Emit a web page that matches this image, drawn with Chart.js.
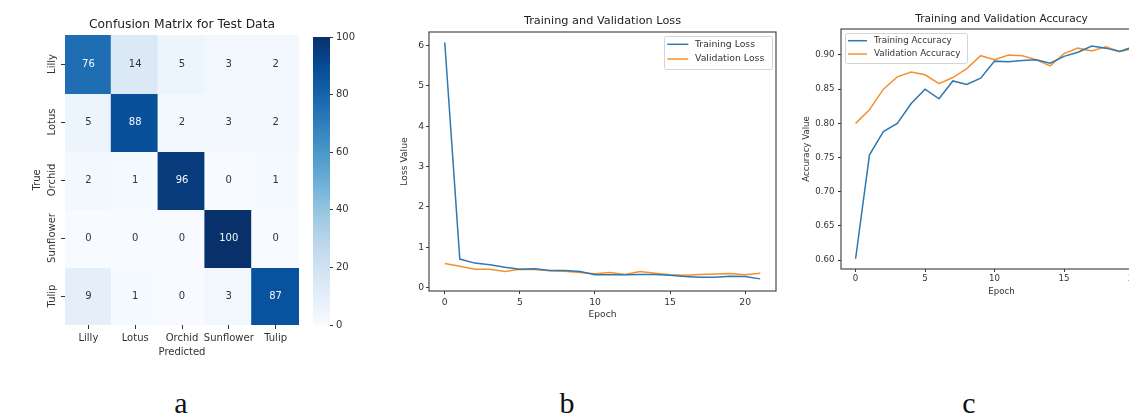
<!DOCTYPE html>
<html>
<head>
<meta charset="utf-8">
<title>Confusion matrix and training curves</title>
<script src="https://cdn.jsdelivr.net/npm/chart.js@4.4.1/dist/chart.umd.min.js"></script>
<style>
  body { margin: 0; width: 1129px; height: 416px; background: #fff; position: relative; overflow: hidden; }
  .pane { position: absolute; top: 0; }
  canvas { display: block; }
  .cap { position: absolute; top: 388px; width: 40px; text-align: center; font: 30px/1 "Liberation Serif", serif; color: #111; }
</style>
</head>
<body>
<div class="pane" style="left:0"><canvas id="cm" width="305" height="370"></canvas></div>
<div class="pane" style="left:300px"><canvas id="cbar" width="70" height="370"></canvas></div>
<div class="pane" style="left:380px"><canvas id="loss" width="400" height="340"></canvas></div>
<div class="pane" style="left:760px;width:369px;height:340px;overflow:hidden"><canvas id="acc" width="410" height="340"></canvas></div>
<div class="cap" style="left:161px">a</div>
<div class="cap" style="left:547px">b</div>
<div class="cap" style="left:949px">c</div>

<script>
// Data
const classNames = ['Lilly', 'Lotus', 'Orchid', 'Sunflower', 'Tulip'];
// rows = true class, columns = predicted class
const confusion = [
    [76, 14, 5, 3, 2],
    [5, 88, 2, 3, 2],
    [2, 1, 96, 0, 1],
    [0, 0, 0, 100, 0],
    [9, 1, 0, 3, 87]
];
const colorbarTicks = [0, 20, 40, 60, 80, 100];

const epochs = [0, 1, 2, 3, 4, 5, 6, 7, 8, 9, 10, 11, 12, 13, 14, 15, 16, 17, 18, 19, 20, 21];
const epochTicks = [0, 5, 10, 15, 20];

const trainLoss = [6.07, 0.71, 0.61, 0.57, 0.51, 0.46, 0.47, 0.43, 0.43, 0.40, 0.32, 0.32,
    0.32, 0.33, 0.33, 0.31, 0.28, 0.26, 0.26, 0.285, 0.28, 0.22];
const valLoss = [0.60, 0.53, 0.46, 0.46, 0.40, 0.46, 0.45, 0.42, 0.41, 0.38, 0.35, 0.38,
    0.33, 0.40, 0.36, 0.32, 0.31, 0.33, 0.34, 0.35, 0.32, 0.36];
const lossTicks = [0, 1, 2, 3, 4, 5, 6];

const trainAcc = [0.602, 0.754, 0.788, 0.800, 0.829, 0.850, 0.836, 0.862, 0.857, 0.866, 0.891, 0.890,
    0.892, 0.893, 0.888, 0.898, 0.904, 0.913, 0.910, 0.905, 0.912, 0.922];
const valAcc = [0.800, 0.820, 0.850, 0.868, 0.875, 0.871, 0.858, 0.867, 0.880, 0.899, 0.893, 0.900,
    0.899, 0.893, 0.884, 0.902, 0.910, 0.906, 0.912, 0.905, 0.909, 0.912];
const accTicks = [0.60, 0.65, 0.70, 0.75, 0.80, 0.85, 0.90];

// Styling
const bluesStops = ['#f7fbff', '#deebf7', '#c6dbef', '#9ecae1', '#6baed6', '#4292c6', '#2171b5', '#08519c', '#08306b'];
const lineBlue = '#2f78b0';
const lineOrange = '#f5902f';
const textColor = '#333';
const FONT = '"DejaVu Sans", sans-serif';

Chart.defaults.font.family = FONT;
Chart.defaults.color = textColor;
Chart.defaults.animation = false;

function hexToRgb(h) {
    return [1, 3, 5].map(i => parseInt(h.substr(i, 2), 16));
}

function blues(v) {
    const t = Math.max(0, Math.min(1, v / 100)) * (bluesStops.length - 1);
    const i = Math.min(Math.floor(t), bluesStops.length - 2);
    const f = t - i;
    const a = hexToRgb(bluesStops[i]), b = hexToRgb(bluesStops[i + 1]);
    const c = a.map((x, k) => Math.round(x + (b[k] - x) * f));
    return `rgb(${c[0]},${c[1]},${c[2]})`;
}

// seaborn picks dark or white annotation text from the cell luminance
function annotColor(v) {
    const rgb = blues(v).match(/\d+/g).map(Number).map(x => {
        x /= 255;
        return x <= 0.03928 ? x / 12.92 : Math.pow((x + 0.055) / 1.055, 2.4);
    });
    const lum = 0.2126 * rgb[0] + 0.7152 * rgb[1] + 0.0722 * rgb[2];
    return lum > 0.408 ? '#333' : '#f4f8fc';
}

function plotTitle(text, size, y) {
    return {
        id: 'plotTitle',
        afterDraw(chart) {
            const { ctx, chartArea: a } = chart;
            ctx.save();
            ctx.font = `${size}px ${FONT}`;
            ctx.fillStyle = '#222';
            ctx.textAlign = 'center';
            ctx.textBaseline = 'middle';
            ctx.fillText(text, (a.left + a.right) / 2, y);
            ctx.restore();
        }
    };
}

// Confusion matrix heatmap
const heatLabels = {
    id: 'heatLabels',
    afterDatasetsDraw(chart) {
        const { ctx } = chart;
        ctx.save();
        ctx.font = `10px ${FONT}`;
        ctx.textAlign = 'center';
        ctx.textBaseline = 'middle';
        chart.data.datasets.forEach((ds, r) => {
            chart.getDatasetMeta(r).data.forEach((bar, c) => {
                const v = confusion[r][c];
                ctx.fillStyle = annotColor(v);
                ctx.fillText(String(v), bar.x, (bar.y + bar.base) / 2);
            });
        });
        // rotated row labels
        const yScale = chart.scales.y;
        ctx.fillStyle = textColor;
        classNames.forEach((name, r) => {
            ctx.save();
            ctx.translate(52.5, yScale.getPixelForValue(r + 0.5));
            ctx.rotate(-Math.PI / 2);
            ctx.fillText(name, 0, 0);
            ctx.restore();
        });
        ctx.restore();
    }
};

new Chart(document.getElementById('cm'), {
    type: 'bar',
    data: {
        labels: classNames,
        datasets: classNames.map((name, r) => ({
            label: name,
            data: classNames.map(() => 1),
            backgroundColor: confusion[r].map(blues),
            borderWidth: 0,
            inflateAmount: 1,
            barPercentage: 1,
            categoryPercentage: 1,
            stack: 'cm'
        }))
    },
    options: {
        responsive: false,
        layout: { padding: { top: 35, right: 6, left: 0, bottom: 0 } },
        plugins: { legend: { display: false }, tooltip: { enabled: false } },
        scales: {
            x: {
                stacked: true,
                grid: { drawOnChartArea: false, offset: false, tickLength: 4, color: textColor },
                border: { display: false },
                ticks: { font: { size: 10 }, padding: 3, color: textColor, maxRotation: 0, minRotation: 0, autoSkip: false },
                title: { display: true, text: 'Predicted', font: { size: 10 }, padding: { top: 0, bottom: 12 } },
                afterFit: s => { s.height = 45; }
            },
            y: {
                type: 'linear',
                stacked: true,
                reverse: true,
                min: 0,
                max: 5,
                afterBuildTicks: s => { s.ticks = classNames.map((_, i) => ({ value: i + 0.5 })); },
                ticks: { display: false },
                grid: { drawOnChartArea: false, tickLength: 4, color: textColor },
                border: { display: false },
                title: { display: true, text: 'True', font: { size: 10 }, padding: { top: 31, bottom: 0 } },
                afterFit: s => { s.width = 65; }
            }
        }
    },
    plugins: [heatLabels, plotTitle('Confusion Matrix for Test Data', 12.3, 25)]
});

// Colorbar
new Chart(document.getElementById('cbar'), {
    type: 'bar',
    data: {
        labels: [''],
        datasets: [{
            data: [[colorbarTicks[0], colorbarTicks[colorbarTicks.length - 1]]],
            backgroundColor: ctx => {
                const area = ctx.chart.chartArea;
                if (!area) return bluesStops[0];
                const g = ctx.chart.ctx.createLinearGradient(0, area.bottom, 0, area.top);
                bluesStops.forEach((c, i) => g.addColorStop(i / (bluesStops.length - 1), c));
                return g;
            },
            borderWidth: 0,
            barPercentage: 1,
            categoryPercentage: 1
        }]
    },
    options: {
        responsive: false,
        layout: { padding: { top: 37, left: 13, right: 0, bottom: 45 } },
        plugins: { legend: { display: false }, tooltip: { enabled: false } },
        scales: {
            x: { display: false },
            y: {
                position: 'right',
                min: 0,
                max: 100,
                afterBuildTicks: s => { s.ticks = colorbarTicks.map(v => ({ value: v })); },
                ticks: { font: { size: 10 }, padding: 3, color: textColor },
                grid: { drawOnChartArea: false, tickLength: 3, color: textColor },
                border: { display: false },
                afterFit: s => { s.width = 40; }
            }
        }
    }
});

// Training curves
function curvePlugins(o) {
    return [{
        id: 'frameAndLegend',
        afterDraw(chart) {
            const { ctx, chartArea: a } = chart;
            ctx.save();
            ctx.strokeStyle = '#4a4a4a';
            ctx.lineWidth = 1.2;
            ctx.strokeRect(a.left, a.top, a.right - a.left, a.bottom - a.top);

            const lg = o.legend;
            const x = lg.right ? a.right - lg.inset - lg.w : a.left + lg.inset;
            const y = a.top + lg.inset;
            ctx.fillStyle = 'rgba(255,255,255,0.85)';
            ctx.strokeStyle = '#d4d4d4';
            ctx.lineWidth = 1;
            ctx.beginPath();
            ctx.roundRect(x + 0.5, y + 0.5, lg.w, lg.h, 2);
            ctx.fill();
            ctx.stroke();

            ctx.font = `${lg.size}px ${FONT}`;
            ctx.textBaseline = 'middle';
            ctx.textAlign = 'left';
            chart.data.datasets.forEach((ds, i) => {
                const ry = y + lg.row0 + i * lg.gap;
                ctx.strokeStyle = ds.borderColor;
                ctx.lineWidth = 1.5;
                ctx.beginPath();
                ctx.moveTo(x + lg.l0, ry);
                ctx.lineTo(x + lg.l1, ry);
                ctx.stroke();
                ctx.fillStyle = textColor;
                ctx.fillText(ds.label, x + lg.tx, ry);
            });
            ctx.restore();
        }
    }, plotTitle(o.title, o.titleSize, o.titleY)];
}

function curveChart(id, o) {
    const series = (vals) => epochs.map((e, i) => ({ x: e, y: vals[i] }));
    return new Chart(document.getElementById(id), {
        type: 'line',
        data: {
            datasets: [
                { label: o.labels[0], data: series(o.train), borderColor: lineBlue, borderWidth: 1.5, pointRadius: 0, tension: 0 },
                { label: o.labels[1], data: series(o.val), borderColor: lineOrange, borderWidth: 1.5, pointRadius: 0, tension: 0 }
            ]
        },
        options: {
            responsive: false,
            layout: { padding: o.pad },
            plugins: { legend: { display: false }, tooltip: { enabled: false } },
            scales: {
                x: {
                    type: 'linear',
                    min: -1.05,
                    max: 22.05,
                    afterBuildTicks: s => { s.ticks = epochTicks.map(v => ({ value: v })); },
                    ticks: { font: { size: o.tick }, padding: o.xPad, color: textColor, callback: v => String(v) },
                    grid: { drawOnChartArea: false, tickLength: 3, color: textColor },
                    border: { display: false },
                    title: { display: true, text: 'Epoch', font: { size: o.lab }, padding: { top: 0, bottom: o.xTitle } },
                    afterFit: s => { s.height = o.xH; }
                },
                y: {
                    min: o.yMin,
                    max: o.yMax,
                    afterBuildTicks: s => { s.ticks = o.yTicks.map(v => ({ value: v })); },
                    ticks: { font: { size: o.tick }, padding: o.yPad, color: textColor, callback: o.fmt },
                    grid: { drawOnChartArea: false, tickLength: 3, color: textColor },
                    border: { display: false },
                    title: { display: true, text: o.yLabel, font: { size: o.lab }, padding: { top: o.yTitle, bottom: 0 } },
                    afterFit: s => { s.width = o.yW; }
                }
            }
        },
        plugins: curvePlugins(o)
    });
}

curveChart('loss', {
    labels: ['Training Loss', 'Validation Loss'],
    train: trainLoss, val: valLoss,
    yMin: -0.08, yMax: 6.33, yTicks: lossTicks, fmt: v => String(v),
    yLabel: 'Loss Value',
    title: 'Training and Validation Loss', titleSize: 11.3, titleY: 21,
    pad: { top: 32, right: 4, left: 0, bottom: 0 },
    tick: 9.2, lab: 9.2, xPad: 3.5, yPad: 2, xTitle: 19.5, yTitle: 19.5, xH: 49, yW: 49,
    legend: { right: true, inset: 4, w: 108, h: 33, row0: 8.3, gap: 14.7, l0: 3.3, l1: 24.3, tx: 31, size: 9.3 }
});

curveChart('acc', {
    labels: ['Training Accuracy', 'Validation Accuracy'],
    train: trainAcc, val: valAcc,
    yMin: 0.587, yMax: 0.938, yTicks: accTicks, fmt: v => v.toFixed(2),
    yLabel: 'Accuracy Value',
    title: 'Training and Validation Accuracy', titleSize: 10.6, titleY: 19,
    pad: { top: 29, right: 8, left: 0, bottom: 0 },
    tick: 8.6, lab: 8.6, xPad: 2, yPad: 3.5, xTitle: 42.8, yTitle: 41.5, xH: 71, yW: 81,
    legend: { right: false, inset: 4, w: 122, h: 30, row0: 7.7, gap: 13.3, l0: 3, l1: 22, tx: 29, size: 8.8 }
});
</script>
</body>
</html>
